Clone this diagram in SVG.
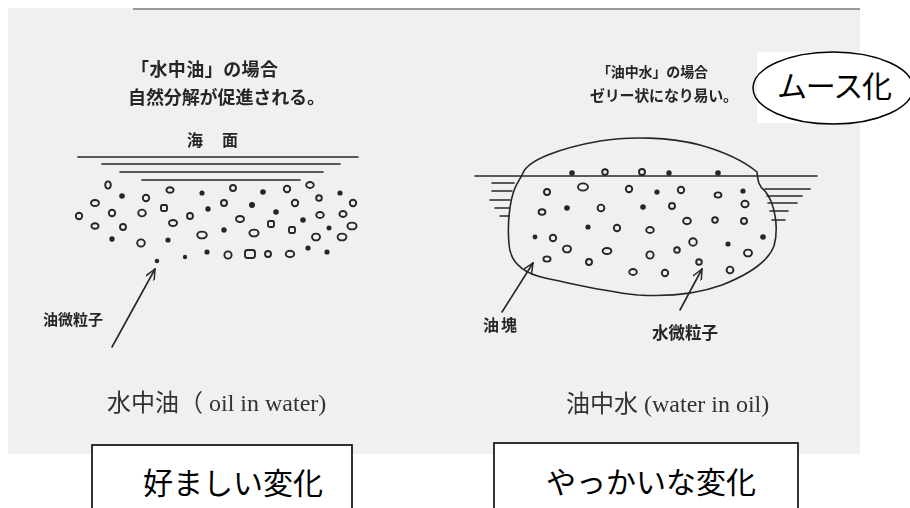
<svg xmlns="http://www.w3.org/2000/svg" width="910" height="508" viewBox="0 0 910 508">
  <style>
    .scan { fill: #262626; font-family: "Noto Sans CJK JP", "Noto Sans", sans-serif; font-weight: bold; }
    .cap { fill: #333; font-family: "Liberation Serif", "Noto Sans CJK JP", serif; font-size: 24px; }
    .ink { fill: none; stroke: #262626; stroke-width: 1.6; stroke-linecap: round; }
    .p { fill: none; stroke: #262626; stroke-width: 1.9; }
    .d { fill: #262626; }
    .box { fill: #fff; stroke: #000; stroke-width: 1.6; }
    .big { fill: #000; font-family: "Noto Sans CJK JP", sans-serif; font-size: 30px; }
  </style>
  <defs>
    <filter id="soft" x="-5%" y="-5%" width="110%" height="110%">
      <feGaussianBlur stdDeviation="0.55"/>
    </filter>
    <marker id="vhead" viewBox="0 0 12 10" refX="11" refY="5" markerWidth="12" markerHeight="10" markerUnits="userSpaceOnUse" orient="auto">
      <path d="M0,0 L11,5 L0,10" fill="none" stroke="#262626" stroke-width="1.5"/>
    </marker>
  </defs>

  <!-- scanned sheet -->
  <rect x="8" y="8" width="852" height="446" fill="#f0f0f0"/>
  <line x1="133" y1="9" x2="860" y2="9" stroke="#9a9a9a" stroke-width="2"/>

  <g filter="url(#soft)">
    <!-- oil in water -->
    <g id="oil-in-water">
      <text class="scan" x="131" y="76" font-size="18" textLength="147">「水中油」の場合</text>
      <text class="scan" x="128" y="104" font-size="18" textLength="197">自然分解が促進される。</text>
      <text class="scan" x="187" y="146" font-size="16">海</text>
      <text class="scan" x="222" y="146" font-size="16">面</text>
      <g class="ink">
        <line x1="78" y1="157" x2="358" y2="157"/>
        <line x1="102" y1="164" x2="340" y2="164"/>
        <line x1="120" y1="172" x2="323" y2="172"/>
        <line x1="142" y1="180" x2="300" y2="180"/>
      </g>
      <g>
        <ellipse class="p" cx="108" cy="185" rx="2.8" ry="3.6"/>
        <circle class="d" cx="122" cy="196" r="2.8"/>
        <circle class="p" cx="146" cy="198" r="3.2"/>
        <ellipse class="p" cx="170" cy="190" rx="3.6" ry="2.8"/>
        <circle class="d" cx="202" cy="193" r="2.6"/>
        <circle class="p" cx="233" cy="188" r="3"/>
        <circle class="d" cx="263" cy="192" r="2.8"/>
        <circle class="p" cx="287" cy="189" r="3.2"/>
        <ellipse class="p" cx="310" cy="185" rx="3.8" ry="3"/>
        <circle class="p" cx="319" cy="198" r="2.8"/>
        <circle class="d" cx="340" cy="193" r="2.6"/>
        <circle class="p" cx="353" cy="203" r="3.2"/>

        <ellipse class="p" cx="95" cy="203" rx="4" ry="3"/>
        <circle class="p" cx="112" cy="213" r="3.2"/>
        <ellipse class="p" cx="142" cy="213" rx="3.8" ry="3.4"/>
        <rect class="p" x="161" y="205" width="6" height="6" rx="1.5"/>
        <circle class="p" cx="190" cy="216" r="3"/>
        <circle class="d" cx="208" cy="209" r="2.7"/>
        <circle class="p" cx="224" cy="203" r="3"/>
        <circle class="d" cx="252" cy="205" r="3"/>
        <circle class="d" cx="276" cy="212" r="2.8"/>
        <circle class="p" cx="295" cy="203" r="3.2"/>
        <ellipse class="p" cx="320" cy="215" rx="3.8" ry="3"/>
        <ellipse class="p" cx="343" cy="214" rx="3.6" ry="3"/>

        <circle class="p" cx="79" cy="216" r="3.2"/>
        <ellipse class="p" cx="95" cy="226" rx="3.6" ry="2.8"/>
        <circle class="p" cx="123" cy="227" r="3"/>
        <ellipse class="p" cx="173" cy="223" rx="4" ry="3"/>
        <ellipse class="p" cx="240" cy="219" rx="4" ry="3"/>
        <rect class="p" x="268" y="221" width="6" height="6" rx="1.5"/>
        <circle class="d" cx="303" cy="220" r="2.8"/>
        <circle class="d" cx="329" cy="228" r="2.5"/>
        <ellipse class="p" cx="352" cy="226" rx="4.6" ry="3.4"/>

        <circle class="d" cx="112" cy="239" r="2.7"/>
        <ellipse class="p" cx="141" cy="243" rx="3.8" ry="3.6"/>
        <circle class="d" cx="168" cy="240" r="2.6"/>
        <ellipse class="p" cx="202" cy="235" rx="4.8" ry="3.4"/>
        <circle class="d" cx="224" cy="230" r="2.7"/>
        <ellipse class="p" cx="254" cy="233" rx="4.6" ry="3.4"/>
        <rect class="p" x="289" y="227" width="6" height="6" rx="1.5"/>
        <ellipse class="p" cx="316" cy="237" rx="4" ry="3.4"/>
        <ellipse class="p" cx="342" cy="237" rx="4.4" ry="3.4"/>

        <circle class="d" cx="157" cy="261" r="2.3"/>
        <circle class="d" cx="185" cy="257" r="2.2"/>
        <circle class="d" cx="207" cy="252" r="2.6"/>
        <circle class="p" cx="228" cy="255" r="3.6"/>
        <rect class="p" x="245" y="250" width="10" height="8" rx="2.5"/>
        <circle class="p" cx="268" cy="254" r="3"/>
        <ellipse class="p" cx="290" cy="254" rx="4.2" ry="3.2"/>
        <circle class="d" cx="308" cy="248" r="2.6"/>
        <circle class="d" cx="327" cy="252" r="2.6"/>
      </g>
      <text class="scan" x="43" y="325" font-size="15" textLength="60">油微粒子</text>
      <text class="cap" x="107" y="411">水中油（ oil in water)</text>
    </g>

    <!-- water in oil -->
    <g id="water-in-oil">
      <text class="scan" x="597" y="77" font-size="14" textLength="111">「油中水」の場合</text>
      <text class="scan" x="590" y="101" font-size="15" textLength="148">ゼリー状になり易い。</text>
      <g class="ink">
        <line x1="475" y1="176" x2="817" y2="176"/>
        <line x1="492" y1="183" x2="514" y2="183"/>
        <line x1="492" y1="191" x2="512" y2="191"/>
        <line x1="490" y1="200" x2="510" y2="200"/>
        <line x1="495" y1="208" x2="509" y2="208"/>
        <line x1="500" y1="216" x2="509" y2="216"/>
        <line x1="765" y1="189" x2="810" y2="189"/>
        <line x1="767" y1="196" x2="802" y2="196"/>
        <line x1="768" y1="203" x2="797" y2="203"/>
        <line x1="770" y1="211" x2="788" y2="211"/>
        <line x1="772" y1="220" x2="785" y2="220"/>
        <path d="M523,173 C528,160 560,148 600,141 C630,136 670,137 700,145 C725,152 745,162 757,172 C758,180 758,186 765,191 C775,203 779,228 774,246 C768,262 750,274 722,285 C700,293 670,297 638,295 C600,291 570,283 545,278 C522,273 510,262 509,244 C507,222 510,200 515,188 C518,181 521,178 523,173 Z"/>
      </g>
      <g>
        <circle class="d" cx="572" cy="173" r="2.8"/>
        <circle class="p" cx="605" cy="172" r="2.8"/>
        <circle class="p" cx="642" cy="172" r="3"/>
        <circle class="d" cx="669" cy="173" r="2.7"/>
        <circle class="d" cx="718" cy="173" r="2.8"/>

        <circle class="p" cx="547" cy="192" r="3"/>
        <ellipse class="p" cx="583" cy="187" rx="5" ry="3.6"/>
        <circle class="p" cx="629" cy="189" r="3.2"/>
        <circle class="d" cx="657" cy="192" r="2.6"/>
        <circle class="p" cx="681" cy="190" r="3.2"/>
        <ellipse class="p" cx="718" cy="195" rx="3.4" ry="2.6"/>
        <circle class="d" cx="743" cy="191" r="2.6"/>

        <ellipse class="p" cx="542" cy="212" rx="3.4" ry="2.8"/>
        <circle class="d" cx="567" cy="208" r="2.8"/>
        <circle class="p" cx="601" cy="208" r="3.4"/>
        <circle class="d" cx="643" cy="207" r="2.8"/>
        <circle class="p" cx="672" cy="206" r="3"/>
        <ellipse class="p" cx="745" cy="204" rx="3.6" ry="3.2"/>

        <circle class="d" cx="588" cy="227" r="2.6"/>
        <circle class="p" cx="617" cy="228" r="3.2"/>
        <ellipse class="p" cx="650" cy="230" rx="3.8" ry="3"/>
        <ellipse class="p" cx="687" cy="221" rx="3.8" ry="3.2"/>
        <circle class="p" cx="715" cy="220" r="2.8"/>
        <circle class="p" cx="744" cy="221" r="3"/>

        <circle class="d" cx="535" cy="237" r="2.4"/>
        <circle class="p" cx="553" cy="238" r="3.2"/>
        <ellipse class="p" cx="567" cy="249" rx="4" ry="3.4"/>
        <ellipse class="p" cx="607" cy="251" rx="4.4" ry="3"/>
        <circle class="p" cx="650" cy="255" r="3.6"/>
        <circle class="p" cx="677" cy="250" r="2.8"/>
        <circle class="p" cx="693" cy="242" r="3.8"/>
        <circle class="d" cx="728" cy="244" r="2.6"/>
        <circle class="d" cx="763" cy="237" r="2.8"/>
        <ellipse class="p" cx="748" cy="253" rx="4" ry="3.4"/>

        <ellipse class="p" cx="547" cy="259" rx="3.6" ry="2.6"/>
        <circle class="p" cx="589" cy="262" r="3"/>
        <ellipse class="p" cx="633" cy="272" rx="3.8" ry="3"/>
        <circle class="p" cx="665" cy="273" r="3.2"/>
        <circle class="p" cx="699" cy="262" r="2.8"/>
        <circle class="p" cx="730" cy="270" r="3.4"/>
      </g>
      <text class="scan" x="483" y="331" font-size="16" textLength="34">油塊</text>
      <text class="scan" x="652" y="339" font-size="16.5" textLength="66">水微粒子</text>
      <text class="cap" x="566" y="412">油中水 (water in oil)</text>
    </g>

    <!-- pointer arrows -->
    <g id="connectors" class="ink" marker-end="url(#vhead)">
      <line x1="112" y1="347" x2="155" y2="269"/>
      <line x1="502" y1="312" x2="533" y2="263"/>
      <line x1="680" y1="310" x2="702" y2="269"/>
    </g>
  </g>

  <!-- mousse callout -->
  <g id="mousse">
    <rect x="757" y="52" width="153" height="71" fill="#fff"/>
    <ellipse cx="833" cy="88" rx="80" ry="36" fill="none" stroke="#000" stroke-width="1.5"/>
    <text class="big" x="777" y="97" font-size="29" textLength="115">ムース化</text>
  </g>

  <!-- verdict boxes -->
  <g id="good">
    <rect class="box" x="92" y="445" width="260" height="75"/>
    <text class="big" x="143" y="494">好ましい変化</text>
  </g>
  <g id="bad">
    <rect class="box" x="494" y="443" width="304" height="77"/>
    <text class="big" x="546" y="493">やっかいな変化</text>
  </g>
</svg>
